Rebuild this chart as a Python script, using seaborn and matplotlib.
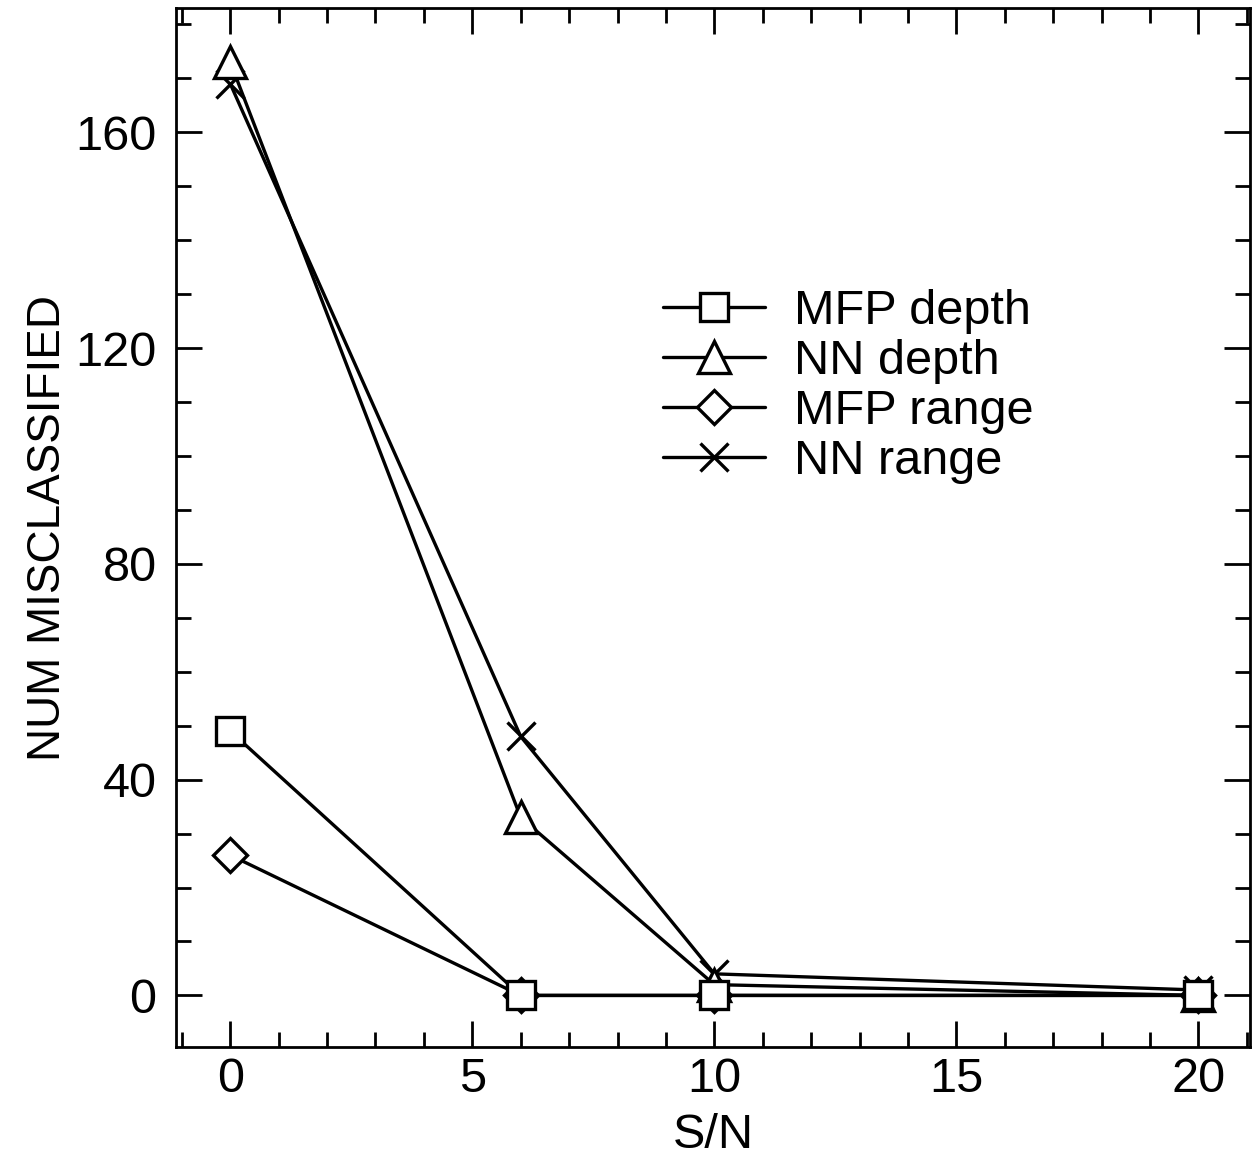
import pandas as pd
import matplotlib.pyplot as plt
import seaborn as sns
import numpy as np
from matplotlib.ticker import MultipleLocator

# data
sn = [0, 6, 10, 20]
mfp_depth = [49, 0, 0, 0]
nn_depth = [173, 33, 2, 0]
mfp_range = [26, 0, 0, 0]
nn_range = [169, 48, 4, 1]

series = [('MFP depth', mfp_depth, 's', 4),
          ('NN depth', nn_depth, '^', 3),
          ('MFP range', mfp_range, 'D', 2),
          ('NN range', nn_range, 'x', 1)]

sns.set_style('ticks')
plt.rcParams['font.family'] = ['Liberation Sans', 'DejaVu Sans']
plt.rcParams['text.color'] = 'black'
plt.rcParams['axes.labelcolor'] = 'black'
plt.rcParams['xtick.color'] = 'black'
plt.rcParams['ytick.color'] = 'black'

fig = plt.figure(figsize=(12.52, 11.74), dpi=100)
ax = fig.add_axes([0.1406, 0.108, 0.858, 0.885])

for name, vals, mk, z in series:
    ms = 20 if mk != 'D' else 17
    if mk == '^':
        ms = 23
    sns.lineplot(x=sn, y=vals, ax=ax, color='black', linewidth=2.4,
                 marker=mk, markersize=ms, markerfacecolor='white',
                 markeredgecolor='black', markeredgewidth=2.4,
                 label=name, zorder=z)

ax.set_xlim(-1.12, 21.07)
ax.set_ylim(-9.6, 183)
ax.xaxis.set_major_locator(MultipleLocator(5))
ax.xaxis.set_minor_locator(MultipleLocator(1))
ax.yaxis.set_major_locator(MultipleLocator(40))
ax.yaxis.set_minor_locator(MultipleLocator(10))
ax.tick_params(which='both', direction='in', top=True, right=True,
               labelsize=35, width=2)
ax.tick_params(axis='x', which='both', pad=7)
ax.tick_params(axis='y', which='both', pad=14)
ax.tick_params(which='major', length=19)
ax.tick_params(which='minor', length=11)
for s in ax.spines.values():
    s.set_linewidth(2)
    s.set_color('black')

ax.set_xlabel('S/N', fontsize=35, labelpad=8)
ax.set_ylabel('NUM MISCLASSIFIED', fontsize=33, labelpad=4)

leg = ax.legend(loc='upper left', bbox_to_anchor=(0.435, 0.748), frameon=False,
                fontsize=35, handlelength=2.1, handletextpad=0.6,
                labelspacing=0.1, borderaxespad=0)

fig.savefig('out.png', dpi=100)
